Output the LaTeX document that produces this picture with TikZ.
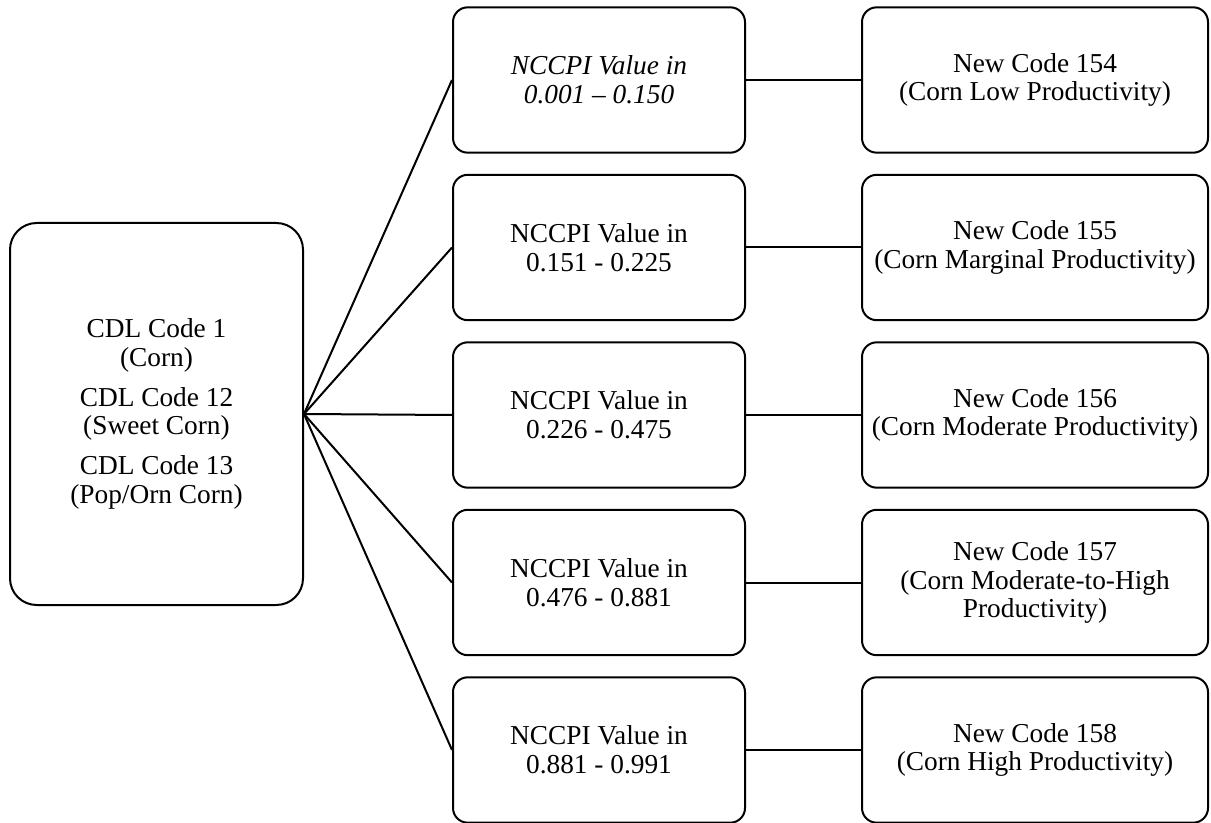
\documentclass[tikz,border=0pt]{standalone}
\usepackage{fontspec}
\setmainfont{Liberation Serif}
\begin{document}
\begin{tikzpicture}[x=0.75pt,y=-0.75pt,
  every node/.style={font=\fontsize{20.5}{21.5}\selectfont, align=center, line width=1.5pt},
  srcbox/.style={draw, rounded corners=20pt, minimum width=219.75pt, minimum height=286.5pt, inner sep=0pt},
  rangebox/.style={draw, rounded corners=11pt, minimum width=219pt, minimum height=109pt, inner sep=0pt},
  codebox/.style={draw, rounded corners=11pt, minimum width=259.5pt, minimum height=109pt, inner sep=0pt},
  link/.style={line width=1.5pt}]
\useasboundingbox (0,0) rectangle (1211,823);

% source classes
\node[srcbox] (src) at (156.5,414) {CDL Code 1\\(Corn)\\[8.5pt]CDL Code 12\\(Sweet Corn)\\[8.5pt]CDL Code 13\\(Pop/Orn Corn)};

% NCCPI ranges
\node[rangebox] (r1) at (599,80)  {\itshape NCCPI Value in\\\itshape 0.001 – 0.150};
\node[rangebox] (r2) at (599,247.5) {NCCPI Value in\\0.151 - 0.225};
\node[rangebox] (r3) at (599,415) {NCCPI Value in\\0.226 - 0.475};
\node[rangebox] (r4) at (599,582.5) {NCCPI Value in\\0.476 - 0.881};
\node[rangebox] (r5) at (599,750) {NCCPI Value in\\0.881 - 0.991};

% new codes
\node[codebox] (c1) at (1035,80)  {New Code 154\\(Corn Low Productivity)};
\node[codebox] (c2) at (1035,247.5) {New Code 155\\(Corn Marginal Productivity)};
\node[codebox] (c3) at (1035,415) {New Code 156\\(Corn Moderate Productivity)};
\node[codebox] (c4) at (1035,582.5) {New Code 157\\(Corn Moderate-to-High\\Productivity)};
\node[codebox] (c5) at (1035,750) {New Code 158\\(Corn High Productivity)};

\foreach \i in {1,...,5} {
  \draw[link] (src.east) -- (r\i.west);
  \draw[link] (r\i.east) -- (c\i.west);
}
\end{tikzpicture}
\end{document}
